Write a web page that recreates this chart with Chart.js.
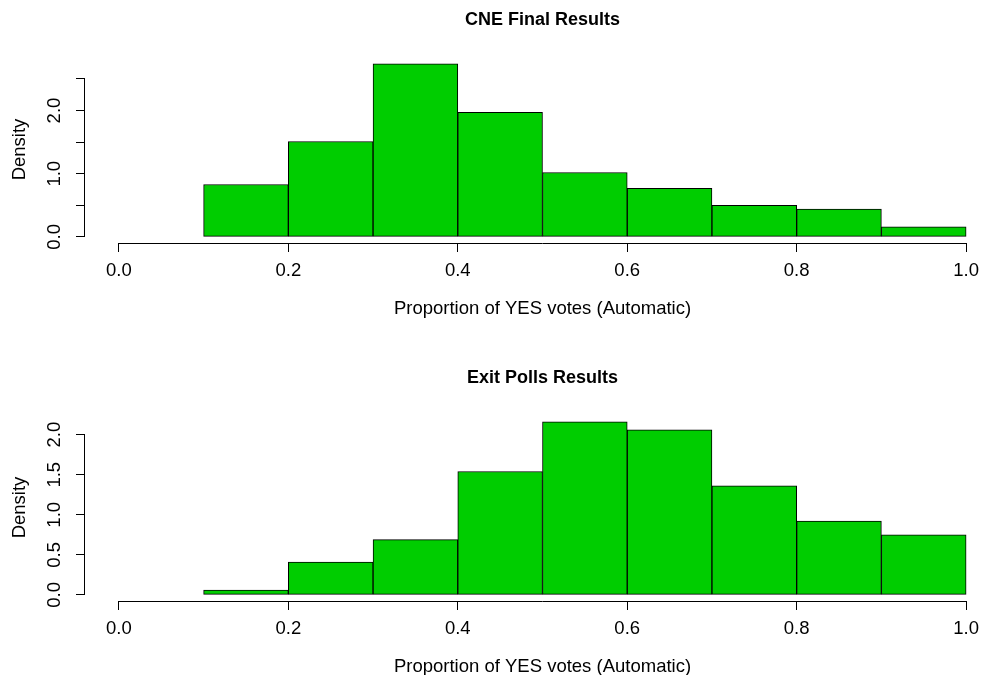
<!DOCTYPE html>
<html>
<head>
<meta charset="utf-8">
<script src="https://cdn.jsdelivr.net/npm/chart.js@4"></script>
<style>
    html, body { margin: 0; padding: 0; background: #fff; overflow: hidden; width: 981px; height: 675px; }
    canvas { position: absolute; left: 0; }
    #cneChart { top: 0; }
    #exitChart { top: 358px; }
</style>
</head>
<body>
<canvas id="cneChart" width="1020" height="330"></canvas>
<canvas id="exitChart" width="1020" height="330"></canvas>
<script>
// histogram bins and densities
var breaks = [0.1, 0.2, 0.3, 0.4, 0.5, 0.6, 0.7, 0.8, 0.9, 1.0];
var cneDensity = [0.83, 1.51, 2.74, 1.97, 1.02, 0.77, 0.50, 0.44, 0.16];
var exitDensity = [0.06, 0.41, 0.69, 1.54, 2.16, 2.06, 1.36, 0.92, 0.75];

var xTicks = [0, 0.2, 0.4, 0.6, 0.8, 1.0];
var cneYTicks = [0, 0.5, 1, 1.5, 2, 2.5];
var cneYLabels = [0, 1, 2];
var exitYTicks = [0, 0.5, 1, 1.5, 2];
var exitYLabels = [0, 0.5, 1, 1.5, 2];

Chart.defaults.font.family = "'Liberation Sans', Arial, Helvetica, sans-serif";
Chart.defaults.color = '#000';

// R style axis line: only spans first to last tick
var axisLines = {
    id: 'axisLines',
    afterDraw: function (chart) {
        var ctx = chart.ctx;
        var xs = chart.scales.x, ys = chart.scales.y;
        var xt = xs.ticks, yt = ys.ticks;
        ctx.save();
        ctx.strokeStyle = '#000';
        ctx.lineWidth = 1;
        ctx.beginPath();
        var yy = Math.round(xs.top) + 0.5;
        ctx.moveTo(xs.getPixelForValue(xt[0].value), yy);
        ctx.lineTo(xs.getPixelForValue(xt[xt.length - 1].value), yy);
        var xx = Math.round(ys.right) - 0.5;
        ctx.moveTo(xx, ys.getPixelForValue(yt[0].value));
        ctx.lineTo(xx, ys.getPixelForValue(yt[yt.length - 1].value));
        ctx.stroke();
        ctx.restore();
    }
};

function makeHistogram(id, title, density, yTicks, yLabels) {
    var points = [];
    for (var i = 0; i < density.length; i++) {
        points.push({ x: (breaks[i] + breaks[i + 1]) / 2, y: density[i] });
    }
    var top = Math.max.apply(null, density);

    return new Chart(document.getElementById(id).getContext('2d'), {
        type: 'bar',
        data: {
            datasets: [{
                data: points,
                backgroundColor: '#00CD00',
                borderColor: '#000',
                borderWidth: 1,
                borderSkipped: false,
                barPercentage: 1,
                categoryPercentage: 1
            }]
        },
        options: {
            responsive: false,
            animation: false,
            layout: { padding: { left: 0, right: 20, top: 0, bottom: 0 } },
            plugins: {
                legend: { display: false },
                tooltip: { enabled: false },
                title: {
                    display: true,
                    text: title,
                    fullSize: false,
                    font: { size: 18, weight: 'bold' },
                    padding: { top: 9, bottom: 25.4 }
                }
            },
            scales: {
                x: {
                    type: 'linear',
                    min: -0.04,
                    max: 1.04,
                    offset: false,
                    afterBuildTicks: function (s) {
                        s.ticks = xTicks.map(function (v) { return { value: v }; });
                    },
                    afterFit: function (s) { s.height = 87; },
                    grid: { display: true, drawOnChartArea: false, drawTicks: true, tickLength: 9, color: '#000', offset: false },
                    border: { display: false },
                    ticks: {
                        autoSkip: false, maxRotation: 0, padding: 8,
                        font: { size: 18.5 },
                        callback: function (v) { return v.toFixed(1); }
                    },
                    title: {
                        display: true,
                        text: 'Proportion of YES votes (Automatic)',
                        font: { size: 18.5 },
                        padding: { top: 0, bottom: 10 }
                    }
                },
                y: {
                    min: -0.035 * top,
                    max: 1.045 * top,
                    afterBuildTicks: function (s) {
                        s.ticks = yTicks.map(function (v) { return { value: v }; });
                    },
                    afterFit: function (s) { s.width = 85; },
                    grid: { display: true, drawOnChartArea: false, drawTicks: true, tickLength: 9, color: '#000' },
                    border: { display: false },
                    ticks: {
                        autoSkip: false, minRotation: 90, maxRotation: 90,
                        crossAlign: 'center', padding: 8,
                        font: { size: 18.5 },
                        callback: function (v) {
                            return yLabels.indexOf(v) >= 0 ? v.toFixed(1) : '';
                        }
                    },
                    title: {
                        display: true,
                        text: 'Density',
                        font: { size: 18.5 },
                        padding: { top: 8.4, bottom: 0 }
                    }
                }
            }
        },
        plugins: [axisLines]
    });
}

var cneChart = makeHistogram('cneChart', 'CNE Final Results', cneDensity, cneYTicks, cneYLabels);
var exitChart = makeHistogram('exitChart', 'Exit Polls Results', exitDensity, exitYTicks, exitYLabels);
</script>
</body>
</html>
